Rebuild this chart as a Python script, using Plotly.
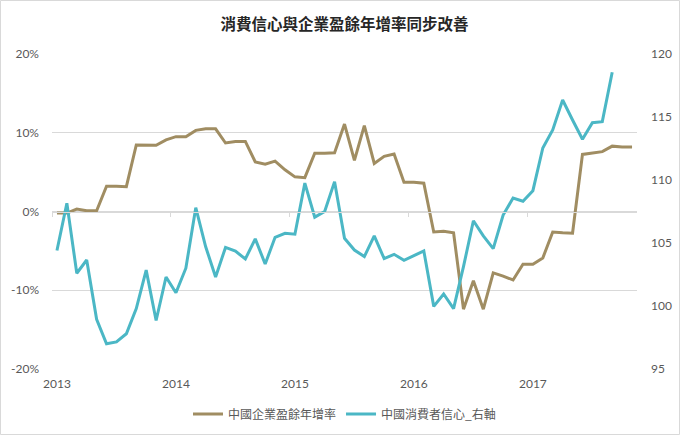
import plotly.graph_objects as go

# Monthly data, Jan 2013 onward
earnings_yoy = [-0.2, -0.2, 0.3, 0.1, 0.1, 3.2, 3.2, 3.15, 8.45, 8.4, 8.4, 9.1, 9.5, 9.5, 10.3, 10.5, 10.5,
                8.7, 8.9, 8.9, 6.3, 6.0, 6.4, 5.3, 4.4, 4.3, 7.4, 7.4, 7.45, 11.1, 6.5, 10.9, 6.1, 7.0, 7.3,
                3.7, 3.7, 3.6, -2.6, -2.5, -2.7, -12.4, -8.8, -12.4, -7.8, -8.2, -8.7, -6.7, -6.7, -5.9,
                -2.6, -2.7, -2.75, 7.25, 7.4, 7.6, 8.3, 8.2, 8.2]
confidence = [104.4, 108.15, 102.6, 103.65, 98.95, 97.0, 97.15, 97.8, 99.8, 102.85, 98.85, 102.3, 101.05,
              103.0, 107.8, 104.7, 102.3, 104.65, 104.35, 103.73, 105.33, 103.33, 105.45, 105.77, 105.7,
              109.75, 107.05, 107.5, 109.87, 105.37, 104.44, 103.92, 105.56, 103.76, 104.1, 103.62, 103.99,
              104.37, 99.97, 100.95, 99.79, 103.12, 106.77, 105.56, 104.55, 107.22, 108.57, 108.31, 109.15,
              112.54, 113.97, 116.35, 114.76, 113.23, 114.55, 114.63, 118.55]
year_labels = ["2013", "2014", "2015", "2016", "2017"]
year_positions = [0, 12, 24, 36, 48]
boundary_ticks = [-0.5, 11.5, 23.5, 35.5, 47.5]
n_months = 59

idx_e = list(range(len(earnings_yoy)))
idx_c = list(range(len(confidence)))

BROWN = "#A08D62"
CYAN = "#4BB7C5"
GRID = "#D9D9D9"
TXT = "#595959"
FONT = "Lato, 'Noto Sans CJK TC', sans-serif"
CJK = "'Noto Sans CJK TC', sans-serif"

fig = go.Figure()
fig.add_trace(go.Scatter(x=idx_e, y=earnings_yoy, mode="lines", name="中國企業盈餘年增率",
                         line=dict(color=BROWN, width=3), yaxis="y"))
fig.add_trace(go.Scatter(x=idx_c, y=confidence, mode="lines", name="中國消費者信心_右軸",
                         line=dict(color=CYAN, width=3), yaxis="y2"))
# dummy trace to materialize the zero-crossing category axis
fig.add_trace(go.Scatter(x=[None], y=[None], xaxis="x2", yaxis="y", showlegend=False, hoverinfo="skip"))

W, H = 680, 435
L, R, T, B = 52, 43, 54, 66
pw, ph = W - L - R, H - T - B

fig.update_layout(
    width=W, height=H,
    margin=dict(l=L, r=R, t=T, b=B, autoexpand=False),
    paper_bgcolor="white", plot_bgcolor="white",
    title=dict(text="消費信心與企業盈餘年增率同步改善", x=0.5, xref="paper", xanchor="center",
               y=1 - 25 / H, yref="container", yanchor="middle",
               font=dict(family=CJK, size=15.5, color="#262626", weight="bold")),
    font=dict(family=FONT, size=12, color=TXT),
    xaxis=dict(range=[-0.5, n_months - 0.5], tickmode="array", tickvals=year_positions, ticktext=year_labels,
               showgrid=False, zeroline=False, showline=False, ticks="", ticklabelstandoff=6,
               tickfont=dict(family=FONT, size=12, color=TXT)),
    xaxis2=dict(range=[-0.5, n_months - 0.5], overlaying="x", anchor="free", position=0.5,
                tickmode="array", tickvals=boundary_ticks, showticklabels=False, ticks="outside",
                ticklen=4, tickcolor=GRID, tickwidth=1, showline=True, linecolor=GRID, linewidth=1,
                showgrid=False, zeroline=False, side="bottom"),
    yaxis=dict(range=[-20, 20], tickmode="array", tickvals=[-20, -10, 0, 10, 20],
               ticktext=["-20%", "-10%", "0%", "10%", "20%"], showgrid=True, gridcolor=GRID, gridwidth=1,
               zeroline=False, showline=False, ticks="", ticklabelstandoff=12,
               tickfont=dict(family=FONT, size=12, color=TXT)),
    yaxis2=dict(range=[95, 120], tickmode="array", tickvals=[95, 100, 105, 110, 115, 120], overlaying="y",
                side="right", showgrid=False, zeroline=False, showline=False, ticks="", ticklabelstandoff=13,
                tickfont=dict(family=FONT, size=12, color=TXT)),
    legend=dict(orientation="h", x=0.5, xanchor="center", xref="paper",
                y=1 - 414 / H, yref="container", yanchor="middle",
                font=dict(family=CJK, size=12, color=TXT), itemwidth=30, tracegroupgap=0,
                bgcolor="rgba(0,0,0,0)"),
    showlegend=True,
    hovermode=False,
    shapes=[dict(type="rect", xref="paper", yref="paper",
                 x0=(0.5 - L) / pw, x1=(W - 0.5 - L) / pw,
                 y0=(369 - (H - 0.5)) / ph, y1=(369 - 0.5) / ph,
                 line=dict(color=GRID, width=1), fillcolor="rgba(0,0,0,0)", layer="below")],
)

fig.write_html("out.html")
